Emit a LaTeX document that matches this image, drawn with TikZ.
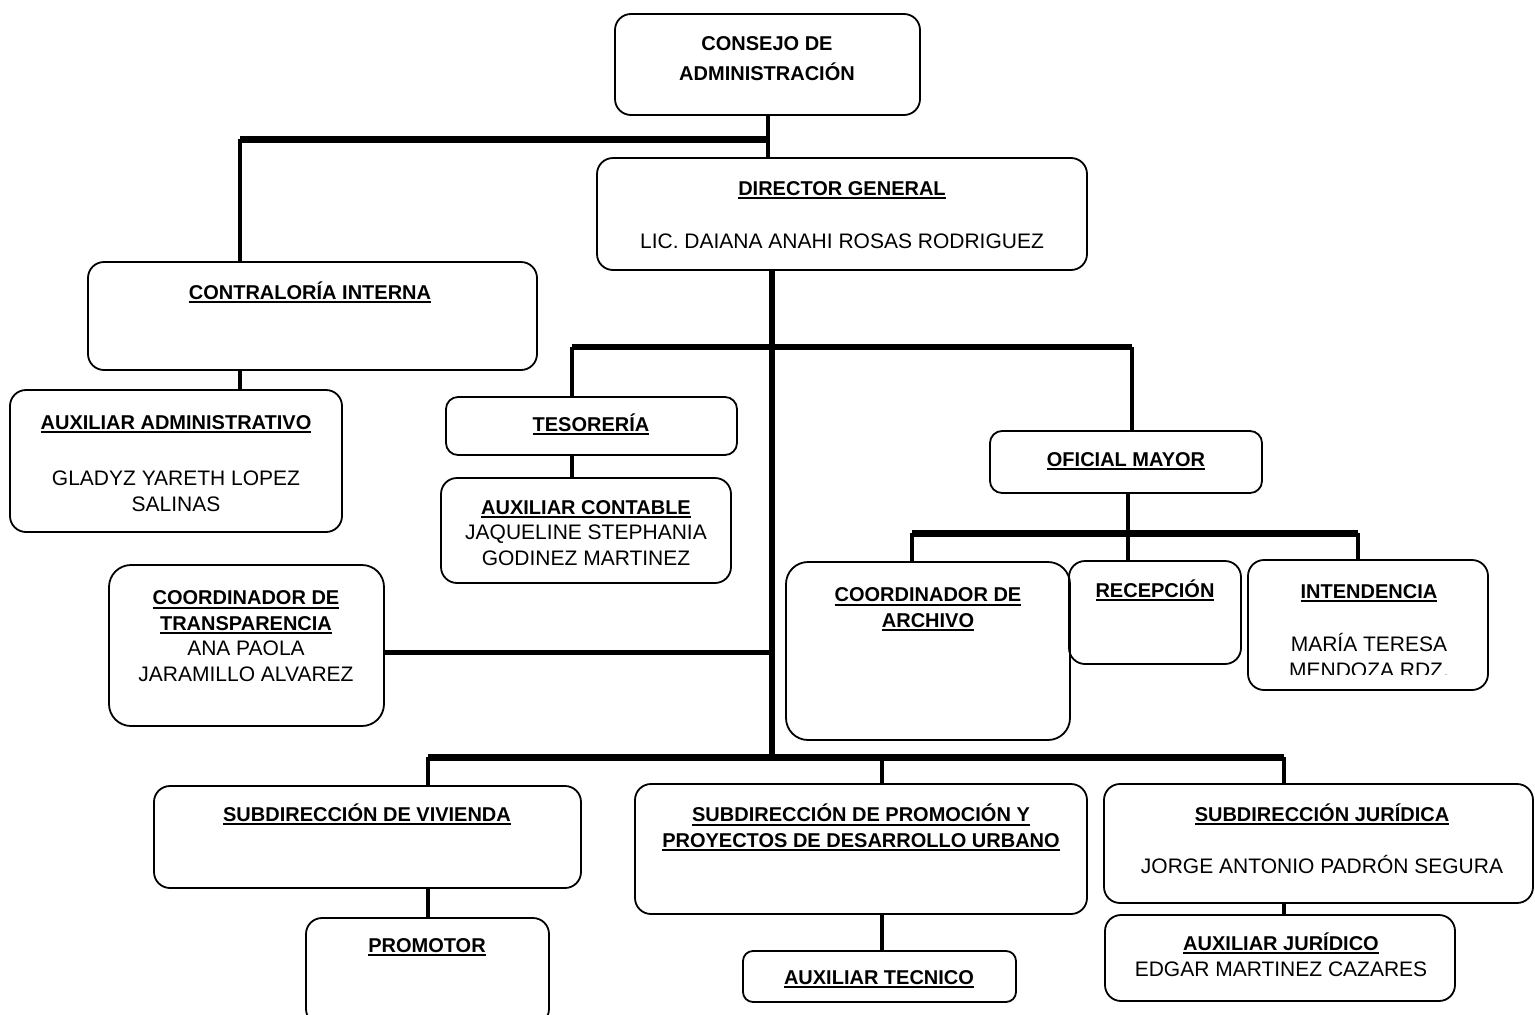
\documentclass[tikz,border=0pt]{standalone}
\usepackage{fontspec}
\setmainfont{Liberation Sans}
\newcommand\ulx[1]{\setbox0\hbox{#1}\rlap{\rule[-4pt]{\wd0}{1.8pt}}\box0}
\tikzset{
  box/.style={draw, line width=1.8pt, rounded corners=16pt, inner sep=0pt},
  lab/.style={anchor=base, inner sep=0pt, align=center, font=\fontsize{21}{25.5}\selectfont},
  tl/.style={lab, font=\fontsize{20}{25.5}\selectfont\bfseries},
  conn/.style={line width=4.5pt},
  bar/.style={line width=7pt},
}
\begin{document}
\begin{tikzpicture}[x=1pt,y=-1pt]
\useasboundingbox (0,0) rectangle (1535,1015);
% boxes
\node[box, minimum width=305pt, minimum height=101pt] (consejo) at (767.5,64.5) {};
\node[box, minimum width=490pt, minimum height=112pt] (director) at (842,214) {};
\node[box, minimum width=449pt, minimum height=108pt] (contraloria) at (312.5,316) {};
\node[box, minimum width=332pt, minimum height=142pt] (auxadm) at (176,461) {};
\node[box, minimum width=291pt, minimum height=58pt, rounded corners=12pt] (tesoreria) at (591.5,426) {};
\node[box, minimum width=290pt, minimum height=105pt] (auxcont) at (586,530.5) {};
\node[box, minimum width=272pt, minimum height=62pt, rounded corners=12pt] (oficial) at (1126,462) {};
\node[box, minimum width=275pt, minimum height=161pt, rounded corners=22pt] (transp) at (246.5,645.5) {};
\node[box, minimum width=284pt, minimum height=178pt, rounded corners=22pt] (archivo) at (928,651) {};
\node[box, minimum width=172pt, minimum height=103pt] (recepcion) at (1155,612.5) {};
\node[box, minimum width=240pt, minimum height=130pt] (intendencia) at (1368,625) {};
\node[box, minimum width=427pt, minimum height=102pt] (vivienda) at (367.5,837) {};
\node[box, minimum width=452pt, minimum height=130pt] (promocion) at (861,849) {};
\node[box, minimum width=429pt, minimum height=119pt] (juridica) at (1318.5,843.5) {};
\node[box, minimum width=243pt, minimum height=107pt] (promotor) at (427.5,971.5) {};
\node[box, minimum width=273pt, minimum height=51pt, rounded corners=10pt] (auxtec) at (879.5,976.5) {};
\node[box, minimum width=350pt, minimum height=86pt] (auxjur) at (1280,958) {};
% texts (anchor = baseline of the last line)
\node[tl, font=\fontsize{20}{30}\selectfont\bfseries] (t1) at (767,80) {CONSEJO DE\\ADMINISTRACIÓN};
\node[tl] (t2) at (842,195) {\ulx{DIRECTOR GENERAL}};
\node[lab] (t2b) at (842,248) {LIC. DAIANA ANAHI ROSAS RODRIGUEZ};
\node[tl] (t3) at (310,299) {\ulx{CONTRALORÍA INTERNA}};
\node[tl] (t4) at (176,429) {\ulx{AUXILIAR ADMINISTRATIVO}};
\node[lab] (t4b) at (176,511) {GLADYZ YARETH LOPEZ\\SALINAS};
\node[tl] (t5) at (591,431) {\ulx{TESORERÍA}};
\node[tl] (t6) at (586,514) {\ulx{AUXILIAR CONTABLE}};
\node[lab] (t6b) at (586,565) {JAQUELINE STEPHANIA\\GODINEZ MARTINEZ};
\node[tl] (t7) at (1126,466) {\ulx{OFICIAL MAYOR}};
\node[tl] (t8) at (246,630) {\ulx{COORDINADOR DE}\\\ulx{TRANSPARENCIA}};
\node[lab] (t8b) at (246,681) {ANA PAOLA\\JARAMILLO ALVAREZ};
\node[tl] (t9) at (928,627) {\ulx{COORDINADOR DE}\\\ulx{ARCHIVO}};
\node[tl] (t10) at (1155,597) {\ulx{RECEPCIÓN}};
\node[tl] (t11) at (1369,598) {\ulx{INTENDENCIA}};
\begin{scope}
\clip (1250,560) rectangle (1490,674);
\node[lab] (t11b) at (1369,677) {MARÍA TERESA\\MENDOZA RDZ.};
\end{scope}
\node[tl] (t12) at (367,821) {\ulx{SUBDIRECCIÓN DE VIVIENDA}};
\node[tl] (t13) at (861,847) {\ulx{SUBDIRECCIÓN DE PROMOCIÓN Y}\\\ulx{PROYECTOS DE DESARROLLO URBANO}};
\node[tl] (t14) at (1322,821) {\ulx{SUBDIRECCIÓN JURÍDICA}};
\node[lab] (t14b) at (1322,873) {JORGE ANTONIO PADRÓN SEGURA};
\node[tl] (t15) at (427,952) {\ulx{PROMOTOR}};
\node[tl] (t16) at (879,984) {\ulx{AUXILIAR TECNICO}};
\node[tl] (t17) at (1281,950) {\ulx{AUXILIAR JURÍDICO}};
\node[lab] (t17b) at (1281,976) {EDGAR MARTINEZ CAZARES};
% junctions
\coordinate (jc) at (768,139);
\coordinate (jcl) at (240,139);
\coordinate (jd) at (772,270);
\coordinate (jm) at (772,347);
\coordinate (jml) at (572,347);
\coordinate (jmr) at (1132,347);
\coordinate (jt) at (772,652);
\coordinate (jb) at (772,757);
\coordinate (jbl) at (428,757);
\coordinate (jbm) at (882,757);
\coordinate (jbr) at (1284,757);
\coordinate (jo) at (1128,533);
\coordinate (jol) at (912,533);
\coordinate (jor) at (1358,533);
% connectors
\draw[line width=4pt] (consejo.south -| jc) -- (director.north -| jc);
\draw[bar] (jc) -- (jcl);
\draw[conn] (jcl) -- (contraloria.north -| jcl);
\draw[line width=6pt] (director.south -| jd) -- (jb);
\draw[line width=6pt] (jml) -- (jmr);
\draw[conn] (jml) -- (tesoreria.north -| jml);
\draw[line width=4pt] (jmr) -- (oficial.north -| jmr);
\draw[conn] (tesoreria.south -| jml) -- (auxcont.north -| jml);
\draw[conn] (contraloria.south -| jcl) -- (auxadm.north -| jcl);
\draw[line width=5pt] (transp.east |- jt) -- (jt);
\draw[line width=4pt] (oficial.south -| jo) -- (recepcion.north -| jo);
\draw[bar] (jol) -- (jor);
\draw[conn] (jol) -- (archivo.north -| jol);
\draw[conn] (jor) -- (intendencia.north -| jor);
\draw[bar] (jbl) -- (jbr);
\draw[line width=4pt] (jbl) -- (vivienda.north -| jbl);
\draw[line width=4pt] (jbm) -- (promocion.north -| jbm);
\draw[line width=4pt] (jbr) -- (juridica.north -| jbr);
\draw[line width=4pt] (vivienda.south -| jbl) -- (promotor.north -| jbl);
\draw[line width=4pt] (promocion.south -| jbm) -- (auxtec.north -| jbm);
\draw[line width=4pt] (juridica.south -| jbr) -- (auxjur.north -| jbr);
\end{tikzpicture}
\end{document}
